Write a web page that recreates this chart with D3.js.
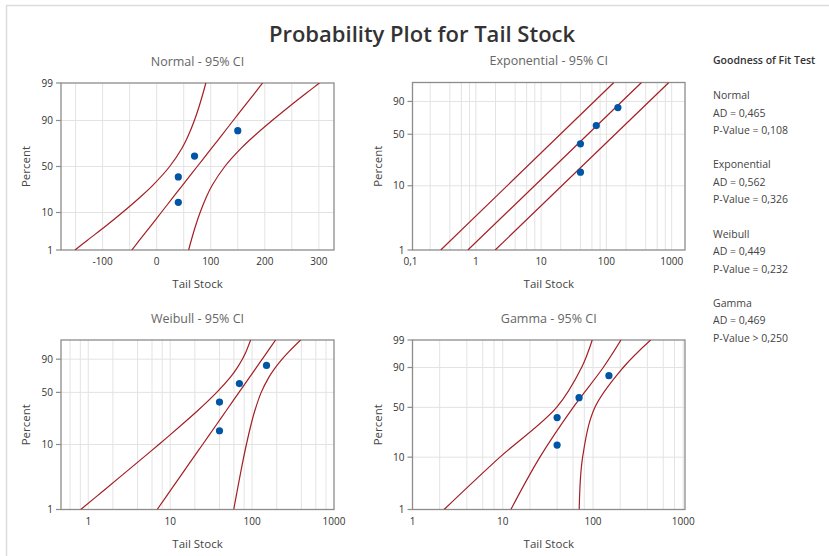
<!DOCTYPE html>
<html>
<head>
<meta charset="utf-8">
<script src="https://cdn.jsdelivr.net/npm/d3@7"></script>
<style>
  body { margin: 0; background: #fff; }
  svg { display: block; }
  text { font-family: "Open Sans", "Noto Sans", sans-serif; }
</style>
</head>
<body>
<svg id="chart" width="829" height="556"></svg>
<script>
// Observed Tail Stock values and their median-rank plotting positions (%)
const tailStock = [40, 40, 70, 150];
const plotPercent = [15.9, 38.6, 61.4, 84.1];

// Fitted line and 95% confidence bands, per distribution (percent -> Tail Stock)
const normalLevels = [1, 2, 5, 10, 20, 30, 50, 70, 80, 90, 95, 98, 99];
const normalLower  = [-151, -128, -93, -63.5, -29.7, -7.3, 24, 47.3, 57.9, 69.7, 77.9, 86, 90.9];
const normalFit    = [-46, -31.8, -10.5, 8.4, 31.2, 47.7, 75, 102.3, 118.8, 141.6, 160.5, 181.8, 196];
const normalUpper  = [59.1, 64, 72.1, 80.3, 92.1, 102.7, 126, 157.3, 179.7, 213.5, 243.1, 277.6, 301.1];

const expLevels = [1, 99];
const expLower  = [0.29, 130];
const expFit    = [0.755, 345];
const expUpper  = [1.98, 905];

const weibullLevels = [1, 2, 5, 10, 20, 30, 50, 70, 80, 90, 95, 99];
const weibullLower  = [0.81, 1.56, 3.73, 7.27, 14.3, 21.6, 37.0, 54.4, 64.2, 76.0, 84.1, 96.0];
const weibullFit    = [6.94, 10.14, 16.8, 24.9, 37.4, 48.3, 69.2, 93.5, 109.4, 133, 153.4, 193.8];
const weibullUpper  = [59.7, 66.0, 75.8, 85.2, 97.7, 108, 129.3, 160.7, 186.4, 232.6, 280, 391];

const gammaLevels = [1, 10, 50, 90, 99];
const gammaLower  = [2.24, 9.3, 39.5, 74.7, 98];
const gammaFit    = [12.3, 25.8, 60.3, 129.8, 204];
const gammaUpper  = [70.3, 76.7, 105, 216, 435];

// Axis ticks
const percentTicks = [1, 10, 50, 90, 99];
const percentTicksShort = [1, 10, 50, 90];
const normalXTicks = [-100, 0, 100, 200, 300];
const normalXGrid = [-150, -100, -50, 0, 50, 100, 150, 200, 250, 300];
const expXTicks = [0.1, 1, 10, 100, 1000];
const logXTicks = [1, 10, 100, 1000];
const logGridSteps = [1, 2, 4, 6, 8];

// Goodness of fit table
const gofNames = ["Normal", "Exponential", "Weibull", "Gamma"];
const gofAD = ["0,465", "0,562", "0,449", "0,469"];
const gofP = ["= 0,108", "= 0,326", "= 0,232", "> 0,250"];

// ---- probability-scale transforms ----
function probit(p) {
  const a = [-3.969683028665376e+01, 2.209460984245205e+02, -2.759285104469687e+02, 1.383577518672690e+02, -3.066479806614716e+01, 2.506628277459239e+00];
  const b = [-5.447609879822406e+01, 1.615858368580409e+02, -1.556989798598866e+02, 6.680131188771972e+01, -1.328068155288572e+01];
  const c = [-7.784894002430293e-03, -3.223964580411365e-01, -2.400758277161838e+00, -2.549732539343734e+00, 4.374664141464968e+00, 2.938163982698783e+00];
  const d = [7.784695709041462e-03, 3.224671290700398e-01, 2.445134137142996e+00, 3.754408661907416e+00];
  const pl = 0.02425;
  let q, r;
  if (p < pl) {
    q = Math.sqrt(-2 * Math.log(p));
    return (((((c[0]*q+c[1])*q+c[2])*q+c[3])*q+c[4])*q+c[5]) / ((((d[0]*q+d[1])*q+d[2])*q+d[3])*q+1);
  }
  if (p > 1 - pl) {
    q = Math.sqrt(-2 * Math.log(1 - p));
    return -(((((c[0]*q+c[1])*q+c[2])*q+c[3])*q+c[4])*q+c[5]) / ((((d[0]*q+d[1])*q+d[2])*q+d[3])*q+1);
  }
  q = p - 0.5; r = q * q;
  return (((((a[0]*r+a[1])*r+a[2])*r+a[3])*r+a[4])*r+a[5])*q / (((((b[0]*r+b[1])*r+b[2])*r+b[3])*r+b[4])*r+1);
}
const tNormal = P => probit(P / 100);
const tExtreme = P => Math.log(-Math.log(1 - P / 100));
const gammaAxisShape = 4;
const tGamma = P => {
  const k = gammaAxisShape, v = 1 / (9 * k);
  return Math.log(k * Math.pow(1 - v + probit(P / 100) * Math.sqrt(v), 3));
};

const fmt = v => String(v).replace(".", ",");
const svg = d3.select("#chart");

svg.append("rect").attr("width", 829).attr("height", 556).attr("fill", "#fff");
svg.append("path").attr("d", "M6.5,556V5.5H829")
  .attr("fill", "none").attr("stroke", "#dcdcdc").attr("stroke-width", 1.5);

svg.append("text").attr("x", 422).attr("y", 42).attr("text-anchor", "middle")
  .attr("font-size", 22).attr("font-weight", 600).attr("fill", "#333")
  .text("Probability Plot for Tail Stock");

const panels = [
  { title: "Normal - 95% CI", box: [61, 83, 334, 250],
    x: d3.scaleLinear().domain([-177, 328]), t: tNormal,
    yTicks: percentTicks, xTicks: normalXTicks, xGrid: normalXGrid,
    levels: normalLevels, lower: normalLower, fit: normalFit, upper: normalUpper },
  { title: "Exponential - 95% CI", box: [412.5, 82.5, 685, 250],
    x: d3.scaleLog().domain([0.107, 1600]), t: tExtreme,
    yTicks: percentTicksShort, xTicks: expXTicks, decades: [0.1, 1, 10, 100, 1000],
    levels: expLevels, lower: expLower, fit: expFit, upper: expUpper },
  { title: "Weibull - 95% CI", box: [61, 340, 334, 509.5],
    x: d3.scaleLog().domain([0.465, 1000]), t: tExtreme,
    yTicks: percentTicksShort, xTicks: logXTicks, decades: [0.1, 1, 10, 100, 1000],
    levels: weibullLevels, lower: weibullLower, fit: weibullFit, upper: weibullUpper },
  { title: "Gamma - 95% CI", box: [412.5, 340, 685, 509.5],
    x: d3.scaleLog().domain([1, 1045]), t: tGamma,
    yTicks: percentTicks, xTicks: logXTicks, decades: [1, 10, 100, 1000],
    levels: gammaLevels, lower: gammaLower, fit: gammaFit, upper: gammaUpper }
];

panels.forEach((p, i) => {
  const [x0, y0, x1, y1] = p.box;
  const x = p.x.range([x0, x1]);
  const y = d3.scaleLinear().domain([p.t(1), p.t(99)]).range([y1, y0]);
  const g = svg.append("g");
  const clipId = "clip" + i;
  svg.append("clipPath").attr("id", clipId).append("rect")
    .attr("x", x0).attr("y", y0).attr("width", x1 - x0).attr("height", y1 - y0);

  // vertical grid
  let gridX = p.xGrid;
  if (!gridX) {
    gridX = [];
    p.decades.forEach(dv => logGridSteps.forEach(s => gridX.push(dv * s)));
  }
  gridX = gridX.filter(v => x(v) > x0 + 0.5 && x(v) < x1 - 0.5);
  g.append("g").selectAll("line").data(gridX).join("line")
    .attr("x1", d => x(d)).attr("x2", d => x(d)).attr("y1", y0).attr("y2", y1)
    .attr("stroke", "#e3e3e3").attr("stroke-width", 1);
  // horizontal grid
  g.append("g").selectAll("line").data(p.yTicks.filter(v => v > 1 && v < 99)).join("line")
    .attr("x1", x0).attr("x2", x1).attr("y1", d => y(p.t(d))).attr("y2", d => y(p.t(d)))
    .attr("stroke", "#e3e3e3").attr("stroke-width", 1);

  // frame
  g.append("rect").attr("x", x0).attr("y", y0).attr("width", x1 - x0).attr("height", y1 - y0)
    .attr("fill", "none").attr("stroke", "#8c8c8c").attr("stroke-width", 1.3);

  // y ticks + labels
  const yt = g.append("g").selectAll("g").data(p.yTicks).join("g")
    .attr("transform", d => `translate(0,${y(p.t(d))})`);
  yt.append("line").attr("x1", x0 - 5).attr("x2", x0).attr("stroke", "#8c8c8c").attr("stroke-width", 1.2);
  yt.append("text").attr("x", x0 - 8).attr("dy", "0.35em").attr("text-anchor", "end")
    .attr("font-size", 10).attr("fill", "#333").text(d => d);

  // x labels
  g.append("g").selectAll("text").data(p.xTicks).join("text")
    .attr("x", d => x(d)).attr("y", y1 + 15).attr("text-anchor", "middle")
    .attr("font-size", 10).attr("fill", "#333").text(d => fmt(d));

  // titles
  g.append("text").attr("x", (x0 + x1) / 2).attr("y", y0 - 17.5).attr("text-anchor", "middle")
    .attr("font-size", 12.5).attr("fill", "#666").text(p.title);
  g.append("text").attr("x", (x0 + x1) / 2).attr("y", y1 + 38).attr("text-anchor", "middle")
    .attr("font-size", 11.5).attr("fill", "#444").text("Tail Stock");
  g.append("text").attr("transform", `translate(${x0 - 31},${(y0 + y1) / 2}) rotate(-90)`)
    .attr("text-anchor", "middle").attr("font-size", 11.5).attr("fill", "#444").text("Percent");

  // fitted line and confidence bands
  const line = d3.line().x(d => x(d[1])).y(d => y(p.t(d[0]))).curve(d3.curveCatmullRom.alpha(0.5));
  const plotArea = g.append("g").attr("clip-path", `url(#${clipId})`);
  [p.lower, p.fit, p.upper].forEach(arr => {
    plotArea.append("path").datum(p.levels.map((lv, j) => [lv, arr[j]]))
      .attr("d", line).attr("fill", "none").attr("stroke", "#a31f24").attr("stroke-width", 1.2);
  });

  // observations
  g.append("g").selectAll("circle").data(tailStock.map((v, j) => [v, plotPercent[j]])).join("circle")
    .attr("cx", d => x(d[0])).attr("cy", d => y(p.t(d[1]))).attr("r", 3.6).attr("fill", "#0055a5");
});

// goodness of fit table
const gof = svg.append("g").attr("font-size", 10.5).attr("fill", "#444");
gof.append("text").attr("x", 713).attr("y", 64).attr("font-weight", 600).attr("fill", "#333")
  .text("Goodness of Fit Test");
gofNames.forEach((n, i) => {
  const base = 99 + i * 69.3;
  gof.append("text").attr("x", 713).attr("y", base).text(n);
  gof.append("text").attr("x", 713).attr("y", base + 17.5).text("AD = " + gofAD[i]);
  gof.append("text").attr("x", 713).attr("y", base + 35).text("P-Value " + gofP[i]);
});
</script>
</body>
</html>
